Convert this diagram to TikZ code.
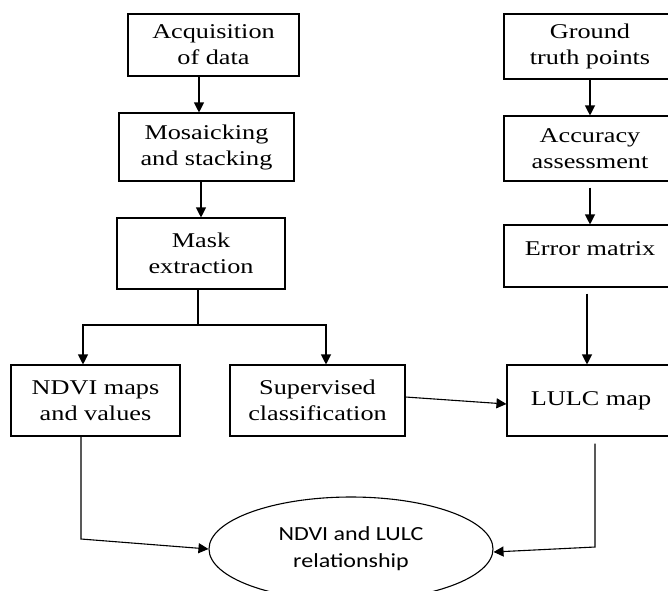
\documentclass[tikz,border=0pt]{standalone}
\usepackage{fontspec}
\setmainfont[FakeStretch=1.25]{Liberation Serif}
\newfontfamily\ellfont[FakeStretch=1.2]{Carlito}
\usetikzlibrary{arrows.meta,calc,shapes.geometric}
\begin{document}
\begin{tikzpicture}[x=1pt,y=-1pt,
  box/.style={draw=black,line width=1.1pt,rectangle,inner sep=0pt,align=center,
    font=\fontsize{21pt}{26pt}\selectfont},
  oval/.style={draw=black,line width=1.1pt,ellipse,inner sep=0pt,align=center,
    minimum width=284pt,minimum height=104pt,font=\ellfont\fontsize{20pt}{27pt}\selectfont},
  arr/.style={line width=1.1pt,-{Triangle[length=10pt,width=10pt]}},
  ln/.style={line width=1.1pt}]
\useasboundingbox (0,0) rectangle (668,590);
\clip (0,0) rectangle (668,590);
\fill[white] (0,0) rectangle (668,590);
% left column
\node[box,minimum width=171pt,minimum height=62pt] (acq) at (213.5,45) {Acquisition\\of data};
\node[box,minimum width=175pt,minimum height=68pt] (mos) at (206.5,147) {Mosaicking\\and stacking};
\node[box,minimum width=168pt,minimum height=71pt] (mask) at (201,253.5) {Mask\\extraction};
\node[box,minimum width=169pt,minimum height=71pt] (ndvi) at (95.5,400.5) {NDVI maps\\and values};
\node[box,minimum width=175pt,minimum height=71pt] (sup) at (317.5,400.5) {Supervised\\classification};
% right column
\node[box,minimum width=172pt,minimum height=65pt] (gt) at (590,46.5) {Ground\\truth points};
\node[box,minimum width=172pt,minimum height=65pt] (acc) at (590,148.5) {Accuracy\\assessment};
\node[box,minimum width=172pt,minimum height=62pt,text depth=14pt] (err) at (590,256) {Error matrix};
\node[box,minimum width=168pt,minimum height=71pt] (lulc) at (591,400.5) {LULC map};
% ellipse
\node[oval] (ell) at (351,549) {NDVI and LULC\\relationship};
% helper coordinates
\coordinate (c1) at (199,0);
\coordinate (c2) at (201,0);
\coordinate (c3) at (198,0);
\coordinate (j) at (198,325);
\coordinate (xa) at (83,0);
\coordinate (xb) at (326,0);
\coordinate (xn) at (81,0);
\coordinate (bn) at (81,539);
\coordinate (xr) at (590,0);
\coordinate (xe) at (587,0);
\coordinate (xl) at (595,0);
\coordinate (bl) at (595,547);
% connectors
\draw[arr] (acq.south -| c1) -- (mos.north -| c1);
\draw[arr] (mos.south -| c2) -- (mask.north -| c2);
\draw[ln] (mask.south -| c3) -- (j);
\draw[arr] (j) -| (ndvi.north -| xa);
\draw[arr] (j) -| (sup.north -| xb);
\draw[arr] (ndvi.south -| xn) -- (bn) -- (ell.west);
\draw[arr] ($(sup.east)+(0,-3.5)$) -- ($(lulc.west)+(0,3.5)$);
\draw[arr] (gt.south -| xr) -- (acc.north -| xr);
\draw[arr,shorten <=6pt] (acc.south -| xr) -- (err.north -| xr);
\draw[arr,shorten <=6pt] (err.south -| xe) -- (lulc.north -| xe);
\draw[arr,shorten <=7pt] (lulc.south -| xl) -- (bl) -- ($(ell.east)+(0,3)$);
\end{tikzpicture}
\end{document}
